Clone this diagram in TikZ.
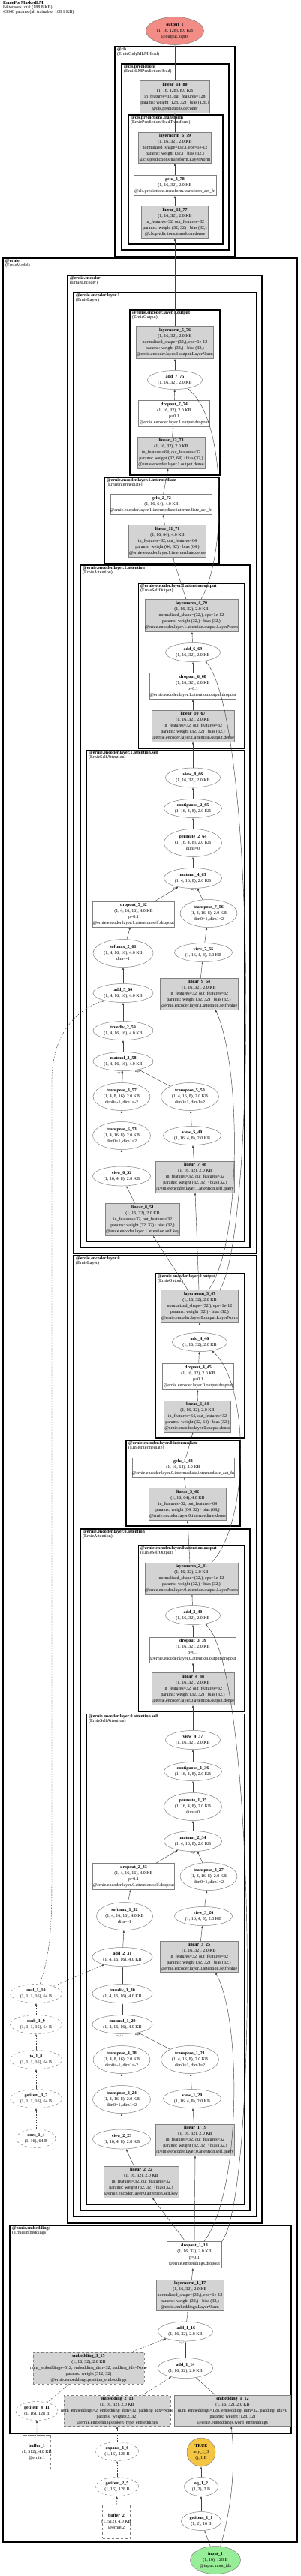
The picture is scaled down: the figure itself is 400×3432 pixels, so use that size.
\documentclass[tikz,border=0pt]{standalone}
\usepackage{fontspec}
\setmainfont{Liberation Serif}
\usepackage{tikz}
\usetikzlibrary{arrows.meta,shapes.geometric}
\definecolor{parmgray}{HTML}{D3D3D3}
\definecolor{nodeline}{HTML}{808080}
\definecolor{outred}{HTML}{F28C86}
\definecolor{ingreen}{HTML}{98EE98}
\definecolor{boolgold}{HTML}{F4C542}
\definecolor{edgeink}{HTML}{404040}
\newcommand{\nodetxt}[1]{\makebox[0pt]{\begin{tabular}{@{}c@{}}#1\end{tabular}}}

\begin{document}
\begin{tikzpicture}[
  x=1pt,y=-1pt,
  every node/.style={font=\fontsize{6}{8}\selectfont,inner sep=0pt},
  parm/.style 2 args={rectangle,draw=nodeline,fill=parmgray,line width=0.5pt,minimum width=#1pt,minimum height=#2pt},
  dparm/.style 2 args={parm={#1}{#2},dashed},
  plain/.style 2 args={rectangle,draw=nodeline,fill=white,line width=0.5pt,minimum width=#1pt,minimum height=#2pt},
  oval/.style 2 args={ellipse,draw=nodeline,fill=white,line width=0.5pt,minimum width=#1pt,minimum height=#2pt},
  doval/.style 2 args={oval={#1}{#2},dashed},
  buf/.style={cylinder,shape border rotate=90,aspect=0.3,draw=nodeline,fill=white,dashed,line width=0.5pt,minimum width=37pt,minimum height=45pt},
  clus/.style={draw=black},
  clab/.style={anchor=north west,align=left,font=\fontsize{6}{6}\selectfont},
  argl/.style={font=\fontsize{3.5}{4}\selectfont},
  arr/.style={-{Latex[length=3pt,width=2.4pt]},draw=edgeink,line width=0.45pt},
  darr/.style={arr,dash pattern=on 2pt off 1.5pt}
]
\useasboundingbox (0,0) rectangle (400,3432);
\node[clab] (head) at (4,1) {\textbf{ErnieForMaskedLM}\\84 tensors total (188.8 KB)\\43040 params (all trainable, 168.1 KB)};

% module boxes
\foreach \xa/\ya/\xb/\yb/\lw/\nm/\cl [count=\i] in {
  153/62/313/342/2/cls/ErnieOnlyMLMHead,
  162/85/305/333/1.6/cls.predictions/ErnieLMPredictionHead,
  171/153/297/325/1.3/cls.predictions.transform/ErniePredictionHeadTransform,
  4/344/396/3387/2/ernie/ErnieModel,
  90/367/349/2962/1.6/ernie.encoder/ErnieEncoder,
  98/390/342/1670/1.3/ernie.encoder.layer.1/ErnieLayer,
  173/413/293/633/1.1/ernie.encoder.layer.1.output/ErnieOutput,
  139/636/292/751/1.1/ernie.encoder.layer.1.intermediate/ErnieIntermediate,
  107/753/333/1662/1.1/ernie.encoder.layer.1.attention/ErnieAttention,
  184/777/325/997/0.9/ernie.encoder.layer.1.attention.output/ErnieSelfOutput,
  115/999/325/1654/0.9/ernie.encoder.layer.1.attention.self/ErnieSelfAttention,
  98/1673/342/2953/1.3/ernie.encoder.layer.0/ErnieLayer,
  207/1697/326/1916/1.1/ernie.encoder.layer.0.output/ErnieOutput,
  168/1919/320/2033/1.1/ernie.encoder.layer.0.intermediate/ErnieIntermediate,
  107/2037/333/2945/1.1/ernie.encoder.layer.0.attention/ErnieAttention,
  184/2059/325/2280/0.9/ernie.encoder.layer.0.attention.output/ErnieSelfOutput,
  115/2283/325/2937/0.9/ernie.encoder.layer.0.attention.self/ErnieSelfAttention,
  13/2965/388/3242/1.6/ernie.embeddings/ErnieEmbeddings}
{
  \draw[clus,line width=\lw pt] (\xa,\ya) rectangle (\xb,\yb);
  \node[clab] (cl\i) at (\xa+3,\ya+1.5) {\textbf{@\nm}\\(\cl)};
}

% head
\node[oval={77}{37},fill=outred] (out1) at (233,41) {\nodetxt{\textbf{output\_1}\\(1, 16, 128), 8.0 KB\\@output.logits}};
\node[parm={93}{43}] (lin14) at (233,129) {\nodetxt{\textbf{linear\_14\_80}\\(1, 16, 128), 8.0 KB\\in\_features=32, out\_features=128\\params: weight (128, 32) · bias (128,)\\@cls.predictions.decoder}};
\node[parm={97}{41}] (ln6) at (233,197) {\nodetxt{\textbf{layernorm\_6\_79}\\(1, 16, 32), 2.0 KB\\normalized\_shape=(32,), eps=1e-12\\params: weight (32,) · bias (32,)\\@cls.predictions.transform.LayerNorm}};
\node[plain={110}{27}] (gelu3) at (233,247) {\nodetxt{\textbf{gelu\_3\_78}\\(1, 16, 32), 2.0 KB\\@cls.predictions.transform.transform\_act\_fn}};
\node[parm={89}{43}] (lin13) at (233,296) {\nodetxt{\textbf{linear\_13\_77}\\(1, 16, 32), 2.0 KB\\in\_features=32, out\_features=32\\params: weight (32, 32) · bias (32,)\\@cls.predictions.transform.dense}};

% layer 1
\node[parm={103}{43}] (ln5) at (233,456) {\nodetxt{\textbf{layernorm\_5\_76}\\(1, 16, 32), 2.0 KB\\normalized\_shape=(32,), eps=1e-12\\params: weight (32,) · bias (32,)\\@ernie.encoder.layer.1.output.LayerNorm}};
\node[oval={73}{25}] (add7) at (233,506) {\nodetxt{\textbf{add\_7\_75}\\(1, 16, 32), 2.0 KB}};
\node[plain={95}{35}] (do7) at (232,551) {\nodetxt{\textbf{dropout\_7\_74}\\(1, 16, 32), 2.0 KB\\p=0.1\\@ernie.encoder.layer.1.output.dropout}};
\node[parm={90}{42}] (lin12) at (228,603) {\nodetxt{\textbf{linear\_12\_73}\\(1, 16, 32), 2.0 KB\\in\_features=64, out\_features=32\\params: weight (32, 64) · bias (32,)\\@ernie.encoder.layer.1.output.dense}};
\node[plain={135}{27}] (gelu2) at (215,672) {\nodetxt{\textbf{gelu\_2\_72}\\(1, 16, 64), 4.0 KB\\@ernie.encoder.layer.1.intermediate.intermediate\_act\_fn}};
\node[parm={103}{43}] (lin11) at (223,721) {\nodetxt{\textbf{linear\_11\_71}\\(1, 16, 64), 4.0 KB\\in\_features=32, out\_features=64\\params: weight (64, 32) · bias (64,)\\@ernie.encoder.layer.1.intermediate.dense}};
\node[parm={124}{43}] (ln4) at (255,820) {\nodetxt{\textbf{layernorm\_4\_70}\\(1, 16, 32), 2.0 KB\\normalized\_shape=(32,), eps=1e-12\\params: weight (32,) · bias (32,)\\@ernie.encoder.layer.1.attention.output.LayerNorm}};
\node[oval={73}{25}] (add6) at (257,869) {\nodetxt{\textbf{add\_6\_69}\\(1, 16, 32), 2.0 KB}};
\node[plain={115}{35}] (do6) at (257,914) {\nodetxt{\textbf{dropout\_6\_68}\\(1, 16, 32), 2.0 KB\\p=0.1\\@ernie.encoder.layer.1.attention.output.dropout}};
\node[parm={110}{42}] (lin10) at (257,967) {\nodetxt{\textbf{linear\_10\_67}\\(1, 16, 32), 2.0 KB\\in\_features=32, out\_features=32\\params: weight (32, 32) · bias (32,)\\@ernie.encoder.layer.1.attention.output.dense}};
\node[oval={73}{26}] (view8) at (257,1036) {\nodetxt{\textbf{view\_8\_66}\\(1, 16, 32), 2.0 KB}};
\node[oval={77}{25}] (cont2) at (257,1077) {\nodetxt{\textbf{contiguous\_2\_65}\\(1, 16, 4, 8), 2.0 KB}};
\node[oval={77}{37}] (perm2) at (257,1123) {\nodetxt{\textbf{permute\_2\_64}\\(1, 16, 4, 8), 2.0 KB\\dims=0}};
\node[oval={77}{27}] (mm4) at (257,1170) {\nodetxt{\textbf{matmul\_4\_63}\\(1, 4, 16, 8), 2.0 KB}};
\node[plain={109}{34}] (do5) at (178,1218) {\nodetxt{\textbf{dropout\_5\_62}\\(1, 4, 16, 16), 4.0 KB\\p=0.1\\@ernie.encoder.layer.1.attention.self.dropout}};
\node[oval={76}{37}] (tr7) at (278,1217) {\nodetxt{\textbf{transpose\_7\_56}\\(1, 4, 16, 8), 2.0 KB\\dim0=1, dim1=2}};
\node[oval={80}{37}] (sm2) at (164,1270) {\nodetxt{\textbf{softmax\_2\_61}\\(1, 4, 16, 16), 4.0 KB\\dim=-1}};
\node[oval={77}{25}] (view7) at (271,1269) {\nodetxt{\textbf{view\_7\_55}\\(1, 16, 4, 8), 2.0 KB}};
\node[oval={80}{25}] (add5) at (164,1323) {\nodetxt{\textbf{add\_5\_60}\\(1, 4, 16, 16), 4.0 KB}};
\node[parm={104}{42}] (lin9) at (265,1324) {\nodetxt{\textbf{linear\_9\_54}\\(1, 16, 32), 2.0 KB\\in\_features=32, out\_features=32\\params: weight (32, 32) · bias (32,)\\@ernie.encoder.layer.1.attention.self.value}};
\node[oval={80}{25}] (td2) at (164,1373) {\nodetxt{\textbf{truediv\_2\_59}\\(1, 4, 16, 16), 4.0 KB}};
\node[oval={80}{25}] (mm3) at (164,1414) {\nodetxt{\textbf{matmul\_3\_58}\\(1, 4, 16, 16), 4.0 KB}};
\node[oval={76}{37}] (tr8) at (162,1461) {\nodetxt{\textbf{transpose\_8\_57}\\(1, 4, 8, 16), 2.0 KB\\dim0=-1, dim1=-2}};
\node[oval={77}{37}] (tr5) at (253,1461) {\nodetxt{\textbf{transpose\_5\_50}\\(1, 4, 16, 8), 2.0 KB\\dim0=1, dim1=2}};
\node[oval={77}{37}] (tr6) at (162,1513) {\nodetxt{\textbf{transpose\_6\_53}\\(1, 4, 16, 8), 2.0 KB\\dim0=1, dim1=2}};
\node[oval={77}{25}] (view5) at (256,1513) {\nodetxt{\textbf{view\_5\_49}\\(1, 16, 4, 8), 2.0 KB}};
\node[oval={77}{26}] (view6) at (162,1567) {\nodetxt{\textbf{view\_6\_52}\\(1, 16, 4, 8), 2.0 KB}};
\node[parm={105}{42}] (lin7) at (260,1568) {\nodetxt{\textbf{linear\_7\_48}\\(1, 16, 32), 2.0 KB\\in\_features=32, out\_features=32\\params: weight (32, 32) · bias (32,)\\@ernie.encoder.layer.1.attention.self.query}};
\node[parm={99}{43}] (lin8) at (190,1625) {\nodetxt{\textbf{linear\_8\_51}\\(1, 16, 32), 2.0 KB\\in\_features=32, out\_features=32\\params: weight (32, 32) · bias (32,)\\@ernie.encoder.layer.1.attention.self.key}};

% layer 0
\node[parm={103}{43}] (ln3) at (266,1740) {\nodetxt{\textbf{layernorm\_3\_47}\\(1, 16, 32), 2.0 KB\\normalized\_shape=(32,), eps=1e-12\\params: weight (32,) · bias (32,)\\@ernie.encoder.layer.0.output.LayerNorm}};
\node[oval={73}{25}] (add4) at (266,1788) {\nodetxt{\textbf{add\_4\_46}\\(1, 16, 32), 2.0 KB}};
\node[plain={95}{35}] (do4) at (264,1834) {\nodetxt{\textbf{dropout\_4\_45}\\(1, 16, 32), 2.0 KB\\p=0.1\\@ernie.encoder.layer.0.output.dropout}};
\node[parm={89}{42}] (lin6) at (263,1887) {\nodetxt{\textbf{linear\_6\_44}\\(1, 16, 32), 2.0 KB\\in\_features=64, out\_features=32\\params: weight (32, 64) · bias (32,)\\@ernie.encoder.layer.0.output.dense}};
\node[plain={136}{26}] (gelu1) at (244,1955) {\nodetxt{\textbf{gelu\_1\_43}\\(1, 16, 64), 4.0 KB\\@ernie.encoder.layer.0.intermediate.intermediate\_act\_fn}};
\node[parm={103}{43}] (lin5) at (250,2004) {\nodetxt{\textbf{linear\_5\_42}\\(1, 16, 64), 4.0 KB\\in\_features=32, out\_features=64\\params: weight (64, 32) · bias (64,)\\@ernie.encoder.layer.0.intermediate.dense}};
\node[parm={124}{42}] (ln2) at (255,2103) {\nodetxt{\textbf{layernorm\_2\_41}\\(1, 16, 32), 2.0 KB\\normalized\_shape=(32,), eps=1e-12\\params: weight (32,) · bias (32,)\\@ernie.encoder.layer.0.attention.output.LayerNorm}};
\node[oval={73}{25}] (add3) at (257,2152) {\nodetxt{\textbf{add\_3\_40}\\(1, 16, 32), 2.0 KB}};
\node[plain={115}{34}] (do3) at (257,2198) {\nodetxt{\textbf{dropout\_3\_39}\\(1, 16, 32), 2.0 KB\\p=0.1\\@ernie.encoder.layer.0.attention.output.dropout}};
\node[parm={110}{43}] (lin4) at (257,2250) {\nodetxt{\textbf{linear\_4\_38}\\(1, 16, 32), 2.0 KB\\in\_features=32, out\_features=32\\params: weight (32, 32) · bias (32,)\\@ernie.encoder.layer.0.attention.output.dense}};
\node[oval={73}{25}] (view4) at (257,2318) {\nodetxt{\textbf{view\_4\_37}\\(1, 16, 32), 2.0 KB}};
\node[oval={77}{25}] (cont1) at (257,2360) {\nodetxt{\textbf{contiguous\_1\_36}\\(1, 16, 4, 8), 2.0 KB}};
\node[oval={77}{37}] (perm1) at (257,2407) {\nodetxt{\textbf{permute\_1\_35}\\(1, 16, 4, 8), 2.0 KB\\dims=0}};
\node[oval={77}{27}] (mm2) at (257,2453) {\nodetxt{\textbf{matmul\_2\_34}\\(1, 4, 16, 8), 2.0 KB}};
\node[plain={109}{35}] (do2) at (178,2500) {\nodetxt{\textbf{dropout\_2\_33}\\(1, 4, 16, 16), 4.0 KB\\p=0.1\\@ernie.encoder.layer.0.attention.self.dropout}};
\node[oval={76}{37}] (tr3) at (278,2500) {\nodetxt{\textbf{transpose\_3\_27}\\(1, 4, 16, 8), 2.0 KB\\dim0=1, dim1=2}};
\node[oval={75}{37}] (sm1) at (166,2553) {\nodetxt{\textbf{softmax\_1\_32}\\(1, 4, 16, 16), 4.0 KB\\dim=-1}};
\node[oval={77}{25}] (view3) at (271,2553) {\nodetxt{\textbf{view\_3\_26}\\(1, 16, 4, 8), 2.0 KB}};
\node[oval={80}{25}] (add2) at (163,2607) {\nodetxt{\textbf{add\_2\_31}\\(1, 4, 16, 16), 4.0 KB}};
\node[parm={104}{41}] (lin3) at (265,2607) {\nodetxt{\textbf{linear\_3\_25}\\(1, 16, 32), 2.0 KB\\in\_features=32, out\_features=32\\params: weight (32, 32) · bias (32,)\\@ernie.encoder.layer.0.attention.self.value}};
\node[oval={80}{25}] (td1) at (163,2656) {\nodetxt{\textbf{truediv\_1\_30}\\(1, 4, 16, 16), 4.0 KB}};
\node[oval={80}{25}] (mm1) at (163,2697) {\nodetxt{\textbf{matmul\_1\_29}\\(1, 4, 16, 16), 4.0 KB}};
\node[oval={76}{37}] (tr4) at (162,2744) {\nodetxt{\textbf{transpose\_4\_28}\\(1, 4, 8, 16), 2.0 KB\\dim0=-1, dim1=-2}};
\node[oval={77}{37}] (tr1) at (253,2744) {\nodetxt{\textbf{transpose\_1\_21}\\(1, 4, 16, 8), 2.0 KB\\dim0=1, dim1=2}};
\node[oval={77}{37}] (tr2) at (162,2797) {\nodetxt{\textbf{transpose\_2\_24}\\(1, 4, 16, 8), 2.0 KB\\dim0=1, dim1=2}};
\node[oval={77}{25}] (view1) at (256,2796) {\nodetxt{\textbf{view\_1\_20}\\(1, 16, 4, 8), 2.0 KB}};
\node[oval={77}{26}] (view2) at (162,2850) {\nodetxt{\textbf{view\_2\_23}\\(1, 16, 4, 8), 2.0 KB}};
\node[parm={105}{42}] (lin1) at (260,2851) {\nodetxt{\textbf{linear\_1\_19}\\(1, 16, 32), 2.0 KB\\in\_features=32, out\_features=32\\params: weight (32, 32) · bias (32,)\\@ernie.encoder.layer.0.attention.self.query}};
\node[parm={100}{42}] (lin2) at (188,2907) {\nodetxt{\textbf{linear\_2\_22}\\(1, 16, 32), 2.0 KB\\in\_features=32, out\_features=32\\params: weight (32, 32) · bias (32,)\\@ernie.encoder.layer.0.attention.self.key}};

% mask column
\node[doval={69}{25}] (mul) at (48,2656) {\nodetxt{\textbf{mul\_1\_10}\\(1, 1, 1, 16), 64 B}};
\node[doval={69}{25}] (rsub) at (48,2697) {\nodetxt{\textbf{rsub\_1\_9}\\(1, 1, 1, 16), 64 B}};
\node[doval={69}{25}] (tofl) at (48,2744) {\nodetxt{\textbf{to\_1\_8}\\(1, 1, 1, 16), 64 B}};
\node[doval={69}{25}] (gi3) at (48,2796) {\nodetxt{\textbf{getitem\_3\_7}\\(1, 1, 1, 16), 64 B}};
\node[doval={52}{25}] (ones) at (48,2849) {\nodetxt{\textbf{ones\_1\_4}\\(1, 16), 64 B}};

% embeddings
\node[plain={73}{35}] (do1) at (259,3004) {\nodetxt{\textbf{dropout\_1\_18}\\(1, 16, 32), 2.0 KB\\p=0.1\\@ernie.embeddings.dropout}};
\node[parm={90}{41}] (ln1) at (253,3058) {\nodetxt{\textbf{layernorm\_1\_17}\\(1, 16, 32), 2.0 KB\\normalized\_shape=(32,), eps=1e-12\\params: weight (32,) · bias (32,)\\@ernie.embeddings.LayerNorm}};
\node[oval={73}{26}] (iadd) at (247,3106) {\nodetxt{\textbf{iadd\_1\_16}\\(1, 16, 32), 2.0 KB}};
\node[dparm={148}{42}] (emb3) at (118,3155) {\nodetxt{\textbf{embedding\_3\_15}\\(1, 16, 32), 2.0 KB\\num\_embeddings=512, embedding\_dim=32, padding\_idx=None\\params: weight (512, 32)\\@ernie.embeddings.position\_embeddings}};
\node[oval={73}{27}] (add1) at (247,3155) {\nodetxt{\textbf{add\_1\_14}\\(1, 16, 32), 2.0 KB}};
\node[parm={155}{41}] (emb1) at (310,3212) {\nodetxt{\textbf{embedding\_1\_12}\\(1, 16, 32), 2.0 KB\\num\_embeddings=128, embedding\_dim=32, padding\_idx=0\\params: weight (128, 32)\\@ernie.embeddings.word\_embeddings}};
\node[dparm={142}{41}] (emb2) at (156,3212) {\nodetxt{\textbf{embedding\_2\_13}\\(1, 16, 32), 2.0 KB\\num\_embeddings=2, embedding\_dim=32, padding\_idx=None\\params: weight (2, 32)\\@ernie.embeddings.token\_type\_embeddings}};
\node[doval={56}{25}] (gi4) at (49,3212) {\nodetxt{\textbf{getitem\_4\_11}\\(1, 16), 128 B}};
\node[buf] (buf1) at (49,3267) {\nodetxt{\textbf{buffer\_1}\\(1, 512), 4.0 KB\\@ernie:1}};
\node[doval={57}{25}] (exp) at (156,3266) {\nodetxt{\textbf{expand\_1\_6}\\(1, 16), 128 B}};
\node[circle,draw=nodeline,fill=boolgold,line width=0.5pt,minimum size=38pt] (any) at (268,3267) {\nodetxt{\textbf{TRUE}\\any\_1\_3\\(), 1 B}};
\node[doval={57}{25}] (gi2) at (156,3313) {\nodetxt{\textbf{getitem\_2\_5}\\(1, 16), 128 B}};
\node[oval={45}{25}] (eq) at (268,3313) {\nodetxt{\textbf{eq\_1\_2}\\(1, 2), 2 B}};
\node[buf] (buf2) at (155,3360) {\nodetxt{\textbf{buffer\_2}\\(1, 512), 4.0 KB\\@ernie:2}};
\node[oval={53}{25}] (gi1) at (268,3359) {\nodetxt{\textbf{getitem\_1\_1}\\(1, 2), 16 B}};
\node[oval={67}{37},fill=ingreen] (in1) at (287,3411) {\nodetxt{\textbf{input\_1}\\(1, 16), 128 B\\@input.input\_ids}};

% edges
\foreach \a/\b in {lin14/out1,ln6/lin14,gelu3/ln6,lin13/gelu3,ln5/lin13,add7/ln5,do7/add7,lin12/do7,gelu2/lin12,lin11/gelu2,
  ln4/lin11,add6/ln4,do6/add6,lin10/do6,view8/lin10,cont2/view8,perm2/cont2,mm4/perm2,do5/mm4,tr7/mm4,sm2/do5,view7/tr7,
  add5/sm2,lin9/view7,td2/add5,mm3/td2,tr8/mm3,tr5/mm3,tr6/tr8,view5/tr5,view6/tr6,lin7/view5,lin8/view6,
  add4/ln3,do4/add4,lin6/do4,gelu1/lin6,lin5/gelu1,add3/ln2,do3/add3,lin4/do3,view4/lin4,cont1/view4,perm1/cont1,
  mm2/perm1,do2/mm2,tr3/mm2,sm1/do2,view3/tr3,add2/sm1,lin3/view3,td1/add2,mm1/td1,tr4/mm1,tr1/mm1,tr2/tr4,
  view1/tr1,view2/tr2,lin1/view1,lin2/view2,ln1/do1,iadd/ln1,add1/iadd,emb1/add1,gi1/eq,eq/any,in1/gi1}
  \draw[arr] (\a)--(\b);
\foreach \a/\b in {ones/gi3,gi3/tofl,tofl/rsub,rsub/mul,mul/add2,emb3/iadd,emb2/add1,gi4/emb3,buf1/gi4,exp/emb2,gi2/exp,buf2/gi2}
  \draw[darr] (\a)--(\b);

\draw[arr] ([xshift=-16pt]ln3.north) -- ([xshift=14pt]lin8.south);
\draw[arr] ([xshift=-1pt]ln3.north) -- (lin7.south);
\draw[arr] ([xshift=12pt]ln3.north) .. controls (322,1660) and (322,1420) .. ([xshift=22pt]lin9.south);
\draw[arr] ([xshift=27pt]ln3.north) .. controls (342,1640) and (342,960) .. (add6.-35);
\draw[arr] ([xshift=-2pt]ln2.north) -- (lin5.south);
\draw[arr] ([xshift=27pt]ln2.north) .. controls (332,2030) and (334,1845) .. (add4.-35);
\draw[arr] ([xshift=13pt]ln4.north) .. controls (302,740) and (303,560) .. (add7.-35);
\draw[arr] ([xshift=-12pt]do1.north) -- ([xshift=15pt]lin2.south);
\draw[arr] (do1.north) -- (lin1.south);
\draw[arr] ([xshift=13pt]do1.north) .. controls (322,2920) and (322,2690) .. ([xshift=22pt]lin3.south);
\draw[arr] (do1.north east) .. controls (345,2920) and (342,2230) .. (add3.-35);
\draw[arr] (in1.70) .. controls (312,3330) and (313,3270) .. ([xshift=-2pt]emb1.south);
\draw[darr] ([xshift=5pt]mul.north) .. controls (68,2600) and (69,2560) .. (69,2500) -- (69,1440) .. controls (69,1380) and (100,1345) .. (add5.-158);

% arg labels
\node[argl] (a4l) at (233,1184) {arg0};
\node[argl] (a4r) at (258,1186) {arg1};
\node[argl] (a3l) at (159,1430) {arg1};
\node[argl] (a3r) at (183,1428) {arg0};
\node[argl] (a2l) at (233,2468) {arg0};
\node[argl] (a2r) at (257,2469) {arg1};
\node[argl] (a1l) at (158,2713) {arg1};
\node[argl] (a1r) at (183,2711) {arg0};
\node[argl] (a0l) at (217,3118) {arg0};
\node[argl] (a0r) at (242,3122) {arg1};
\end{tikzpicture}
\end{document}
